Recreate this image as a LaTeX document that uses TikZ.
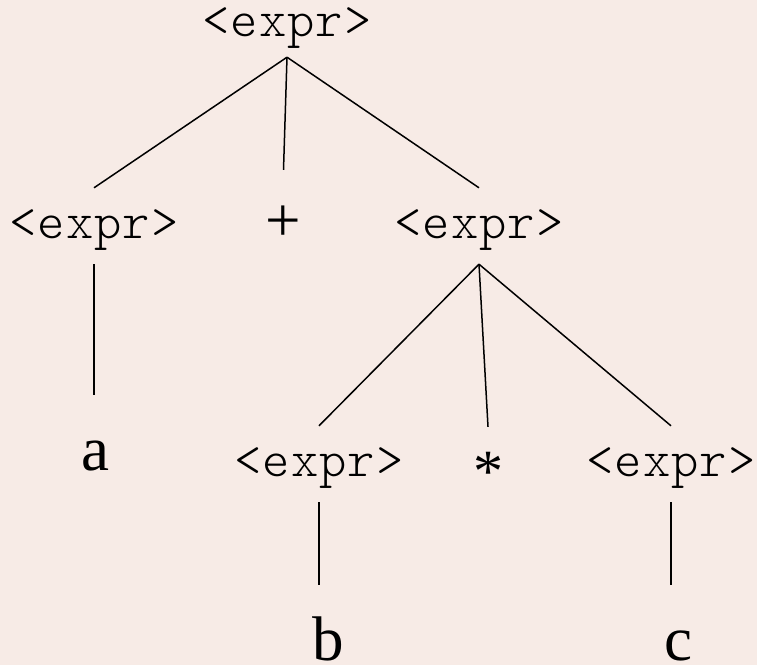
\documentclass[tikz,border=0pt]{standalone}
\usepackage{fontspec}
\setmainfont{Liberation Serif}
\newfontfamily\exprfont{lmmonolt10-regular.otf}[LetterSpace=2]
\definecolor{paper}{HTML}{F7EBE6}

\begin{document}
\begin{tikzpicture}[x=1pt, y=-1pt,
  expr/.style={font=\exprfont\fontsize{52pt}{52pt}\selectfont, anchor=base,
    inner xsep=0pt, inner ysep=0pt, text height=50pt, text depth=26pt},
  rootexpr/.style={expr, text height=36pt, text depth=21pt},
  leaf/.style={font=\fontsize{63pt}{63pt}\selectfont, anchor=base,
    inner xsep=0pt, inner ysep=0pt, text height=75pt, text depth=0pt},
  starleaf/.style={leaf, font=\fontsize{60pt}{60pt}\selectfont, text height=64pt},
  edge/.style={draw=black, line width=1.5pt}]

  \fill[paper] (0,0) rectangle (757,665);
  \useasboundingbox (0,0) rectangle (757,665);

  % parse tree for a + b * c
  \node[rootexpr] (root) at (287,36) {<expr>};

  \node[expr] (e1) at (94,238) {<expr>};
  \node[leaf, text height=71pt] (plus) at (283.5,241) {+};
  \node[expr] (e2) at (479,238) {<expr>};

  \node[leaf] (a) at (95,470) {a};

  \node[expr] (e3) at (319,476) {<expr>};
  \node[starleaf] (star) at (488,491) {*};
  \node[expr] (e4) at (671,476) {<expr>};

  \node[leaf] (b) at (328,660) {b};
  \node[leaf] (c) at (678,660) {c};

  \draw[edge] (root.south) -- (e1.north);
  \draw[edge] (root.south) -- (plus.north);
  \draw[edge] (root.south) -- (e2.north);

  \draw[edge] (e1.south) -- (e1.south |- a.north);

  \draw[edge] (e2.south) -- (e3.north);
  \draw[edge] (e2.south) -- (star.north);
  \draw[edge] (e2.south) -- (e4.north);

  \draw[edge] (e3.south) -- (e3.south |- b.north);
  \draw[edge] (e4.south) -- (e4.south |- c.north);
\end{tikzpicture}
\end{document}
